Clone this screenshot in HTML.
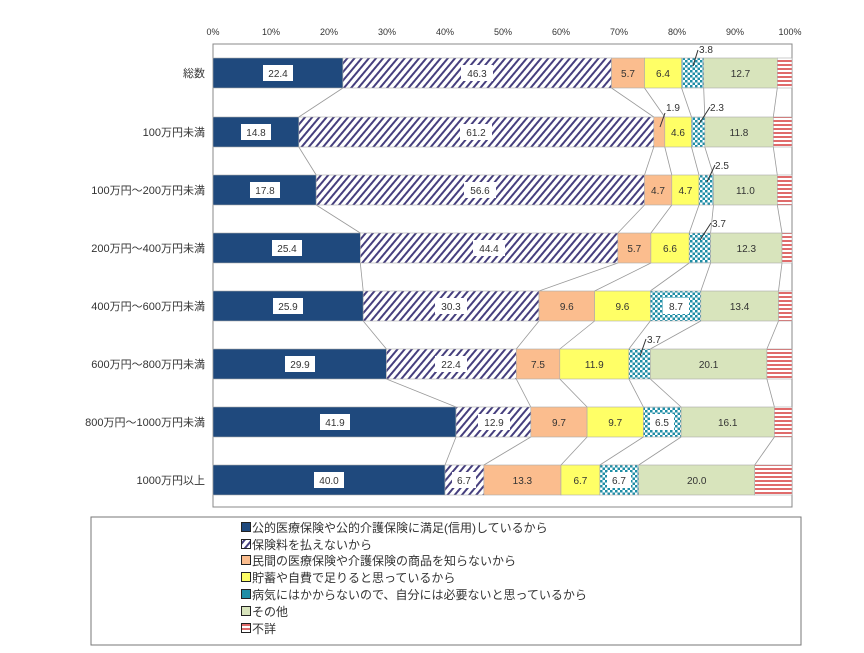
<!DOCTYPE html>
<html><head><meta charset="utf-8"><style>
body{margin:0;background:#fff;width:864px;height:648px;overflow:hidden}
text{font-family:"Liberation Sans","Noto Sans CJK JP",sans-serif}
</style></head><body>
<svg width="864" height="648" xmlns="http://www.w3.org/2000/svg">
<defs>
<pattern id="h" patternUnits="userSpaceOnUse" width="5.5" height="6" patternTransform="rotate(40)"><rect width="5.5" height="6" fill="#fff"/><rect width="2" height="6" fill="#463f7e"/></pattern>
<pattern id="c" patternUnits="userSpaceOnUse" width="5" height="5"><rect width="5" height="5" fill="#fff"/><rect width="2.5" height="2.5" fill="#1f8ea6"/><rect x="2.5" y="2.5" width="2.5" height="2.5" fill="#1f8ea6"/></pattern>
<pattern id="r" patternUnits="userSpaceOnUse" width="6" height="4"><rect width="6" height="4" fill="#fff"/><rect width="6" height="2" fill="#e06b6b"/></pattern>
</defs>
<g font-size="9" fill="#333" text-anchor="middle">
<text x="213" y="35">0%</text><text x="271" y="35">10%</text><text x="329" y="35">20%</text><text x="387" y="35">30%</text><text x="445" y="35">40%</text><text x="503" y="35">50%</text><text x="561" y="35">60%</text><text x="619" y="35">70%</text><text x="677" y="35">80%</text><text x="735" y="35">90%</text><text x="790" y="35">100%</text>
</g>
<rect x="213" y="44" width="579" height="463" fill="none" stroke="#888" stroke-width="1"/>
<g stroke="#999" stroke-width="0.8" fill="none">
<polyline points="342.9,88 298.8,117"/><polyline points="611.5,88 653.8,117"/><polyline points="644.5,88 664.8,117"/><polyline points="681.6,88 691.5,117"/><polyline points="703.7,88 704.8,117"/><polyline points="777.3,88 773.3,117"/>
<polyline points="298.8,147 316.2,175"/><polyline points="653.8,147 644.5,175"/><polyline points="664.8,147 671.8,175"/><polyline points="691.5,147 699,175"/><polyline points="704.8,147 713.5,175"/><polyline points="773.3,147 777.3,175"/>
<polyline points="316.2,205 360.3,233"/><polyline points="644.5,205 617.8,233"/><polyline points="671.8,205 650.9,233"/><polyline points="699,205 689.2,233"/><polyline points="713.5,205 710.6,233"/><polyline points="777.3,205 782,233"/>
<polyline points="360.3,263 363.2,291"/><polyline points="617.8,263 539,291"/><polyline points="650.9,263 594.6,291"/><polyline points="689.2,263 650.3,291"/><polyline points="710.6,263 700.8,291"/><polyline points="782,263 778.5,291"/>
<polyline points="363.2,321 386.4,349"/><polyline points="539,321 516.3,349"/><polyline points="594.6,321 559.8,349"/><polyline points="650.3,321 628.9,349"/><polyline points="700.8,321 650.3,349"/><polyline points="778.5,321 766.9,349"/>
<polyline points="386.4,379 456,407"/><polyline points="516.3,379 530.8,407"/><polyline points="559.8,379 587.1,407"/><polyline points="628.9,379 643.4,407"/><polyline points="650.3,379 681.1,407"/><polyline points="766.9,379 774.4,407"/>
<polyline points="456,437 445,465"/><polyline points="530.8,437 483.9,465"/><polyline points="587.1,437 561,465"/><polyline points="643.4,437 599.9,465"/><polyline points="681.1,437 638.7,465"/><polyline points="774.4,437 754.7,465"/>
</g>
<g stroke="#aaa" stroke-width="0.6">
<rect x="213" y="58" width="129.9" height="30" fill="#1f497d"/><rect x="342.9" y="58" width="268.6" height="30" fill="url(#h)"/><rect x="611.5" y="58" width="33" height="30" fill="#fbbd8e"/><rect x="644.5" y="58" width="37.1" height="30" fill="#ffff66"/><rect x="681.6" y="58" width="22.1" height="30" fill="url(#c)"/><rect x="703.7" y="58" width="73.6" height="30" fill="#d8e4bc"/><rect x="777.3" y="58" width="14.7" height="30" fill="url(#r)"/>
<rect x="213" y="117" width="85.8" height="30" fill="#1f497d"/><rect x="298.8" y="117" width="355" height="30" fill="url(#h)"/><rect x="653.8" y="117" width="11" height="30" fill="#fbbd8e"/><rect x="664.8" y="117" width="26.7" height="30" fill="#ffff66"/><rect x="691.5" y="117" width="13.3" height="30" fill="url(#c)"/><rect x="704.8" y="117" width="68.5" height="30" fill="#d8e4bc"/><rect x="773.3" y="117" width="18.7" height="30" fill="url(#r)"/>
<rect x="213" y="175" width="103.2" height="30" fill="#1f497d"/><rect x="316.2" y="175" width="328.3" height="30" fill="url(#h)"/><rect x="644.5" y="175" width="27.3" height="30" fill="#fbbd8e"/><rect x="671.8" y="175" width="27.2" height="30" fill="#ffff66"/><rect x="699" y="175" width="14.5" height="30" fill="url(#c)"/><rect x="713.5" y="175" width="63.8" height="30" fill="#d8e4bc"/><rect x="777.3" y="175" width="14.7" height="30" fill="url(#r)"/>
<rect x="213" y="233" width="147.3" height="30" fill="#1f497d"/><rect x="360.3" y="233" width="257.5" height="30" fill="url(#h)"/><rect x="617.8" y="233" width="33.1" height="30" fill="#fbbd8e"/><rect x="650.9" y="233" width="38.3" height="30" fill="#ffff66"/><rect x="689.2" y="233" width="21.4" height="30" fill="url(#c)"/><rect x="710.6" y="233" width="71.4" height="30" fill="#d8e4bc"/><rect x="782" y="233" width="10" height="30" fill="url(#r)"/>
<rect x="213" y="291" width="150.2" height="30" fill="#1f497d"/><rect x="363.2" y="291" width="175.8" height="30" fill="url(#h)"/><rect x="539" y="291" width="55.6" height="30" fill="#fbbd8e"/><rect x="594.6" y="291" width="55.7" height="30" fill="#ffff66"/><rect x="650.3" y="291" width="50.5" height="30" fill="url(#c)"/><rect x="700.8" y="291" width="77.7" height="30" fill="#d8e4bc"/><rect x="778.5" y="291" width="13.5" height="30" fill="url(#r)"/>
<rect x="213" y="349" width="173.4" height="30" fill="#1f497d"/><rect x="386.4" y="349" width="129.9" height="30" fill="url(#h)"/><rect x="516.3" y="349" width="43.5" height="30" fill="#fbbd8e"/><rect x="559.8" y="349" width="69.1" height="30" fill="#ffff66"/><rect x="628.9" y="349" width="21.4" height="30" fill="url(#c)"/><rect x="650.3" y="349" width="116.6" height="30" fill="#d8e4bc"/><rect x="766.9" y="349" width="25.1" height="30" fill="url(#r)"/>
<rect x="213" y="407" width="243" height="30" fill="#1f497d"/><rect x="456" y="407" width="74.8" height="30" fill="url(#h)"/><rect x="530.8" y="407" width="56.3" height="30" fill="#fbbd8e"/><rect x="587.1" y="407" width="56.3" height="30" fill="#ffff66"/><rect x="643.4" y="407" width="37.7" height="30" fill="url(#c)"/><rect x="681.1" y="407" width="93.3" height="30" fill="#d8e4bc"/><rect x="774.4" y="407" width="17.6" height="30" fill="url(#r)"/>
<rect x="213" y="465" width="232" height="30" fill="#1f497d"/><rect x="445" y="465" width="38.9" height="30" fill="url(#h)"/><rect x="483.9" y="465" width="77.1" height="30" fill="#fbbd8e"/><rect x="561" y="465" width="38.9" height="30" fill="#ffff66"/><rect x="599.9" y="465" width="38.8" height="30" fill="url(#c)"/><rect x="638.7" y="465" width="116" height="30" fill="#d8e4bc"/><rect x="754.7" y="465" width="37.3" height="30" fill="url(#r)"/>
</g>
<g fill="#fff">
<rect x="263" y="65" width="30" height="16"/><rect x="461" y="65" width="32" height="16"/>
<rect x="241" y="124" width="30" height="16"/><rect x="460" y="124" width="32" height="16"/>
<rect x="250" y="182" width="30" height="16"/><rect x="464" y="182" width="32" height="16"/>
<rect x="272" y="240" width="30" height="16"/><rect x="473" y="240" width="32" height="16"/>
<rect x="273" y="298" width="30" height="16"/><rect x="435" y="298" width="32" height="16"/><rect x="663" y="298" width="26" height="16"/>
<rect x="285" y="356" width="30" height="16"/><rect x="435" y="356" width="32" height="16"/>
<rect x="320" y="414" width="30" height="16"/><rect x="478" y="414" width="32" height="16"/><rect x="650" y="414" width="24" height="16"/>
<rect x="314" y="472" width="30" height="16"/><rect x="452" y="472" width="24" height="16"/><rect x="607" y="472" width="24" height="16"/>
</g>
<g font-size="10" fill="#333" text-anchor="middle">
<text x="278" y="77">22.4</text><text x="477" y="77">46.3</text><text x="628" y="77">5.7</text><text x="663" y="77">6.4</text><text x="740.5" y="77">12.7</text>
<text x="256" y="136">14.8</text><text x="476" y="136">61.2</text><text x="678" y="136">4.6</text><text x="739" y="136">11.8</text>
<text x="265" y="194">17.8</text><text x="480" y="194">56.6</text><text x="658" y="194">4.7</text><text x="685.4" y="194">4.7</text><text x="745.4" y="194">11.0</text>
<text x="287" y="252">25.4</text><text x="489" y="252">44.4</text><text x="634.3" y="252">5.7</text><text x="670" y="252">6.6</text><text x="746.3" y="252">12.3</text>
<text x="288" y="310">25.9</text><text x="451" y="310">30.3</text><text x="566.8" y="310">9.6</text><text x="622.4" y="310">9.6</text><text x="676" y="310">8.7</text><text x="739.6" y="310">13.4</text>
<text x="300" y="368">29.9</text><text x="451" y="368">22.4</text><text x="538" y="368">7.5</text><text x="594.3" y="368">11.9</text><text x="708.6" y="368">20.1</text>
<text x="335" y="426">41.9</text><text x="494" y="426">12.9</text><text x="559" y="426">9.7</text><text x="615.2" y="426">9.7</text><text x="662" y="426">6.5</text><text x="727.7" y="426">16.1</text>
<text x="329" y="484">40.0</text><text x="464" y="484">6.7</text><text x="522.4" y="484">13.3</text><text x="580.4" y="484">6.7</text><text x="619" y="484">6.7</text><text x="696.7" y="484">20.0</text>
<text x="706" y="53">3.8</text><text x="673" y="111">1.9</text><text x="717" y="111">2.3</text><text x="722" y="169">2.5</text><text x="719" y="227">3.7</text><text x="654" y="343">3.7</text>
</g>
<g stroke="#333" stroke-width="1">
<line x1="698" y1="50" x2="693" y2="66"/><line x1="665" y1="113" x2="660" y2="127"/><line x1="710" y1="107" x2="699" y2="124"/><line x1="715" y1="165" x2="707" y2="182"/><line x1="711" y1="223" x2="700" y2="240"/><line x1="646" y1="339" x2="640" y2="356"/>
</g>
<g font-size="11" fill="#333" text-anchor="end">
<text x="205" y="77">総数</text><text x="205" y="136">100万円未満</text><text x="205" y="194">100万円～200万円未満</text><text x="205" y="252">200万円～400万円未満</text><text x="205" y="310">400万円～600万円未満</text><text x="205" y="368">600万円～800万円未満</text><text x="205" y="426">800万円～1000万円未満</text><text x="205" y="484">1000万円以上</text>
</g>
<rect x="91" y="517" width="710" height="128" fill="#fff" stroke="#777" stroke-width="1"/>
<g stroke="#222" stroke-width="1">
<rect x="241.5" y="522.5" width="9" height="9" fill="#1f497d"/>
<rect x="241.5" y="539.5" width="9" height="9" fill="url(#h)"/>
<rect x="241.5" y="555.5" width="9" height="9" fill="#fbbd8e"/>
<rect x="241.5" y="572.5" width="9" height="9" fill="#ffff66"/>
<rect x="241.5" y="589.5" width="9" height="9" fill="#1f8ea6"/>
<rect x="241.5" y="606.5" width="9" height="9" fill="#d8e4bc"/>
<rect x="241.5" y="623.5" width="9" height="9" fill="url(#r)"/>
</g>
<g font-size="12" fill="#333">
<text x="252" y="532">公的医療保険や公的介護保険に満足(信用)しているから</text>
<text x="252" y="549">保険料を払えないから</text>
<text x="252" y="565">民間の医療保険や介護保険の商品を知らないから</text>
<text x="252" y="582">貯蓄や自費で足りると思っているから</text>
<text x="252" y="599">病気にはかからないので、自分には必要ないと思っているから</text>
<text x="252" y="616">その他</text>
<text x="252" y="633">不詳</text>
</g>
</svg>
</body></html>
